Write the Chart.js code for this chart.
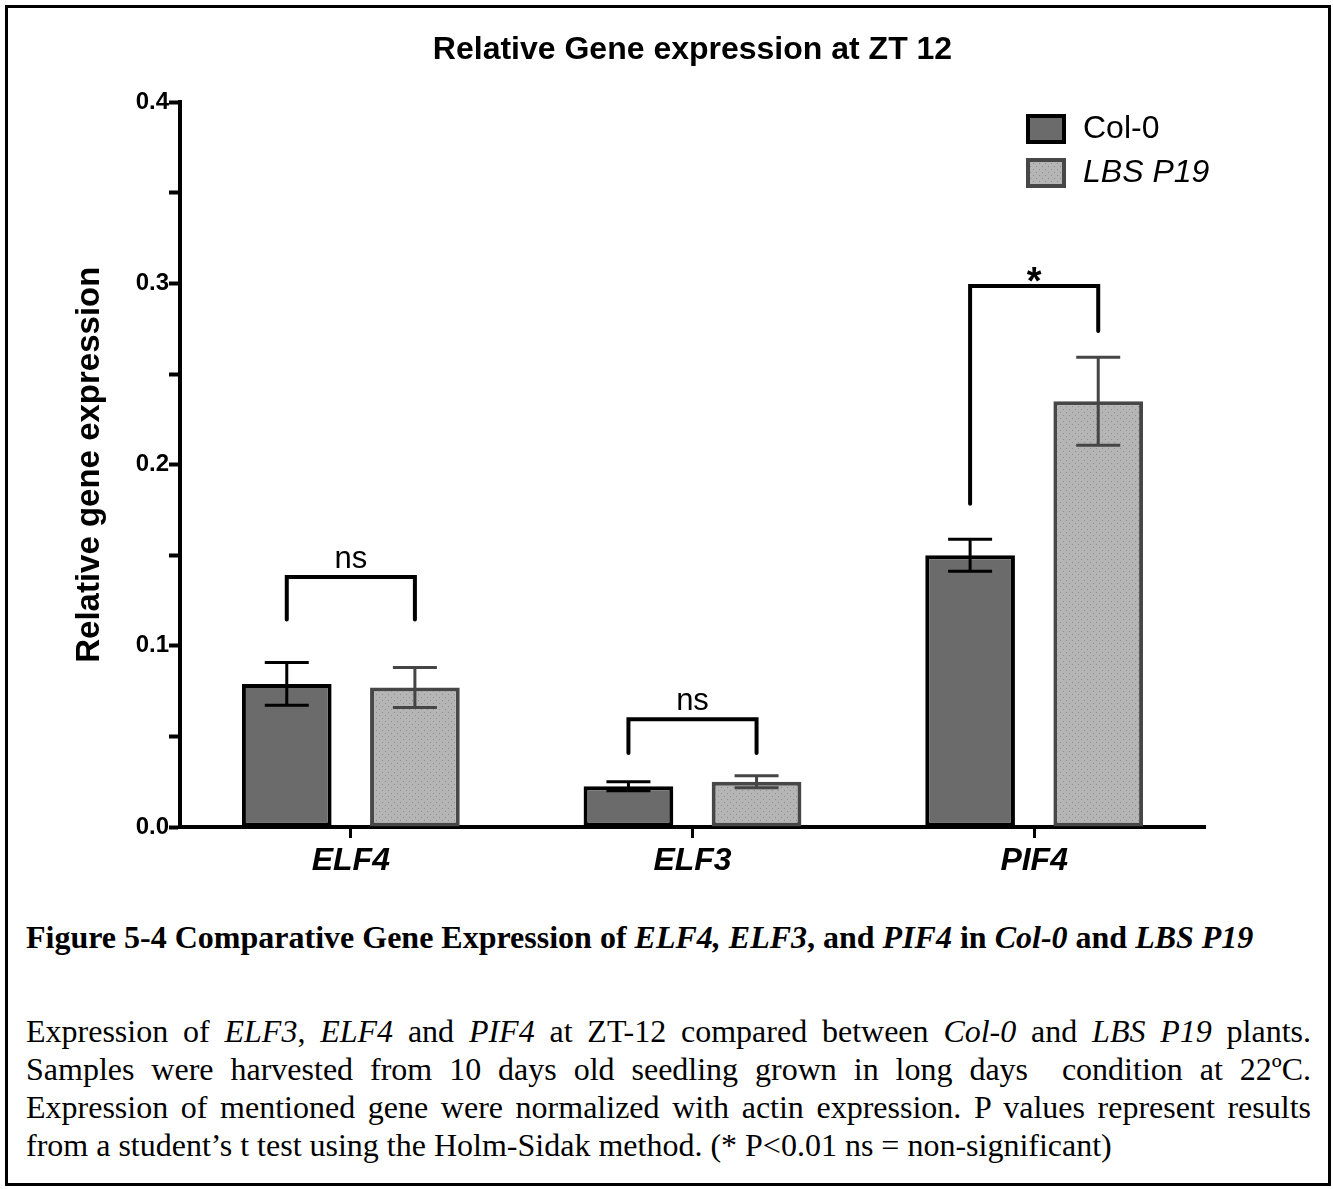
<!DOCTYPE html>
<html lang="en">
<head>
    <meta charset="UTF-8">
    <title>Relative Gene expression at ZT 12</title>
    <script src="https://cdn.jsdelivr.net/npm/chart.js"></script>
    <style>
        body {
            margin: 0;
            background: #fff;
            font-family: "Liberation Sans", Arial, sans-serif;
        }
        #frame {
            position: absolute;
            left: 5px;
            top: 5px;
            width: 1320px;
            height: 1175px;
            border: 3px solid #000;
        }
        #chartBox {
            position: absolute;
            left: 0;
            top: 0;
            width: 1333px;
            height: 887px;
        }
        .caption {
            position: absolute;
            left: 26px;
            width: 1285px;
            font-family: "Liberation Serif", "Times New Roman", serif;
            font-size: 32px;
            line-height: 38px;
            color: #000;
        }
        #figTitle { top: 918px; font-weight: bold; }
        #figText { top: 1012px; }
        #figText div { text-align: justify; text-align-last: justify; white-space: nowrap; }
        #figText div.last { text-align-last: left; }
    </style>
</head>
<body>
    <div id="frame"></div>
    <div id="chartBox"><canvas id="geneChart"></canvas></div>

    <div id="figTitle" class="caption">Figure 5-4 Comparative Gene Expression of <i>ELF4, ELF3</i>, and <i>PIF4</i> in <i>Col-0</i> and <i>LBS P19</i></div>
    <div id="figText" class="caption">
        <div>Expression of <i>ELF3</i>, <i>ELF4</i> and <i>PIF4</i> at ZT-12 compared between <i>Col-0</i> and <i>LBS P19</i> plants.</div>
        <div>Samples were harvested from 10 days old seedling grown in long days&nbsp; condition at 22ºC.</div>
        <div>Expression of mentioned gene were normalized with actin expression. P values represent results</div>
        <div class="last">from a student’s t test using the Holm-Sidak method. (* P&lt;0.01 ns = non-significant)</div>
    </div>

    <script>
        const genes = ['ELF4', 'ELF3', 'PIF4'];
        const col0Values = [0.079, 0.0225, 0.150];
        const col0Errors = [0.0118, 0.0025, 0.0088];
        const lbsValues = [0.077, 0.025, 0.235];
        const lbsErrors = [0.011, 0.0033, 0.0243];
        const sigLabels = ['ns', 'ns', '*'];
        const bracketTop = [0.138, 0.0595, 0.2986];
        const bracketLeftEnd = [0.1146, 0.0408, 0.1785];
        const bracketRightEnd = [0.1146, 0.0408, 0.2738];

        const SANS = '"Liberation Sans", Arial, sans-serif';

        // dotted light grey fill for LBS P19
        function dotPattern() {
            const c = document.createElement('canvas');
            c.width = 6; c.height = 6;
            const g = c.getContext('2d');
            g.fillStyle = '#b5b5b5';
            g.fillRect(0, 0, 6, 6);
            g.fillStyle = '#8e8e8e';
            g.fillRect(1, 1, 1, 1);
            g.fillRect(4, 4, 1, 1);
            return g.createPattern(c, 'repeat');
        }
        const lbsFill = dotPattern();

        const errorBars = {
            id: 'errorBars',
            afterDatasetsDraw(chart) {
                const ctx = chart.ctx;
                const y = chart.scales.y;
                const sets = [
                    { errs: col0Errors, color: '#000' },
                    { errs: lbsErrors, color: '#454545' }
                ];
                sets.forEach((s, di) => {
                    const meta = chart.getDatasetMeta(di);
                    const vals = chart.data.datasets[di].data;
                    meta.data.forEach((bar, i) => {
                        const hi = y.getPixelForValue(vals[i] + s.errs[i]);
                        const lo = y.getPixelForValue(vals[i] - s.errs[i]);
                        ctx.save();
                        ctx.strokeStyle = s.color;
                        ctx.lineWidth = 3;
                        ctx.beginPath();
                        ctx.moveTo(bar.x, hi); ctx.lineTo(bar.x, lo);
                        ctx.moveTo(bar.x - 22, hi); ctx.lineTo(bar.x + 22, hi);
                        ctx.moveTo(bar.x - 22, lo); ctx.lineTo(bar.x + 22, lo);
                        ctx.stroke();
                        ctx.restore();
                    });
                });
            }
        };

        const brackets = {
            id: 'brackets',
            afterDatasetsDraw(chart) {
                const ctx = chart.ctx;
                const y = chart.scales.y;
                const a = chart.getDatasetMeta(0).data;
                const b = chart.getDatasetMeta(1).data;
                genes.forEach((g, i) => {
                    const x1 = a[i].x, x2 = b[i].x;
                    const top = y.getPixelForValue(bracketTop[i]);
                    const star = sigLabels[i] === '*';
                    ctx.save();
                    ctx.strokeStyle = '#000';
                    ctx.lineWidth = 4;
                    ctx.lineCap = 'round';
                    ctx.beginPath();
                    ctx.moveTo(x1, y.getPixelForValue(bracketLeftEnd[i]));
                    ctx.lineTo(x1, top);
                    ctx.lineTo(x2, top);
                    ctx.lineTo(x2, y.getPixelForValue(bracketRightEnd[i]));
                    ctx.stroke();
                    ctx.fillStyle = '#000';
                    ctx.textAlign = 'center';
                    ctx.textBaseline = 'alphabetic';
                    ctx.font = (star ? 'bold 38px ' : '31px ') + SANS;
                    ctx.fillText(sigLabels[i], (x1 + x2) / 2, top + (star ? 8 : -9));
                    ctx.restore();
                });
            }
        };

        const legendBox = {
            id: 'legendBox',
            afterDraw(chart) {
                const ctx = chart.ctx;
                const items = [
                    { text: 'Col-0', fill: '#6b6b6b', border: '#000', font: '32px ' + SANS, y: 114 },
                    { text: 'LBS P19', fill: lbsFill, border: '#474747', font: 'italic 32px ' + SANS, y: 158 }
                ];
                items.forEach(it => {
                    ctx.save();
                    ctx.fillStyle = it.border;
                    ctx.fillRect(1026, it.y, 40, 30);
                    ctx.fillStyle = it.fill;
                    ctx.fillRect(1030, it.y + 4, 32, 22);
                    ctx.fillStyle = '#000';
                    ctx.font = it.font;
                    ctx.textBaseline = 'middle';
                    ctx.textAlign = 'left';
                    ctx.fillText(it.text, 1083, it.y + 15);
                    ctx.restore();
                });
            }
        };

        Chart.defaults.color = '#000';
        Chart.defaults.font.family = SANS;

        new Chart(document.getElementById('geneChart'), {
            type: 'bar',
            data: {
                labels: genes,
                datasets: [{
                    label: 'Col-0',
                    data: col0Values,
                    backgroundColor: '#6b6b6b',
                    borderColor: '#000',
                    borderWidth: 4,
                    borderSkipped: false
                }, {
                    label: 'LBS P19',
                    data: lbsValues,
                    backgroundColor: lbsFill,
                    borderColor: '#474747',
                    borderWidth: 4,
                    borderSkipped: false
                }]
            },
            options: {
                responsive: true,
                maintainAspectRatio: false,
                animation: false,
                layout: { padding: { left: 0, right: 128, top: 0, bottom: 0 } },
                datasets: { bar: { categoryPercentage: 0.75, barPercentage: 0.70 } },
                plugins: {
                    legend: { display: false },
                    tooltip: { enabled: false },
                    title: {
                        display: true,
                        fullSize: false,
                        text: 'Relative Gene expression at ZT 12',
                        font: { size: 32, weight: 'bold' },
                        padding: { top: 31, bottom: 33 }
                    }
                },
                scales: {
                    x: {
                        afterFit: s => { s.height = 60; },
                        border: { display: true, width: 4, color: '#000' },
                        grid: { drawOnChartArea: false, offset: false, tickLength: 11, tickWidth: 3, tickColor: '#000' },
                        ticks: { font: { size: 32, weight: 'bold', style: 'italic' }, padding: 4 }
                    },
                    y: {
                        min: 0,
                        max: 0.4,
                        afterFit: s => { s.width = 180; },
                        border: { display: true, width: 4, color: '#000' },
                        grid: { drawOnChartArea: false, tickLength: 11, tickWidth: 4, tickColor: '#000' },
                        ticks: {
                            stepSize: 0.05,
                            padding: 0,
                            font: { size: 24, weight: 'bold' },
                            callback: v => Math.abs(v * 10 - Math.round(v * 10)) < 1e-6 ? v.toFixed(1) : ''
                        },
                        title: {
                            display: true,
                            text: 'Relative gene expression',
                            font: { size: 33, weight: 'bold' },
                            padding: { top: 70, bottom: 0 }
                        }
                    }
                }
            },
            plugins: [errorBars, brackets, legendBox]
        });
    </script>
</body>
</html>
